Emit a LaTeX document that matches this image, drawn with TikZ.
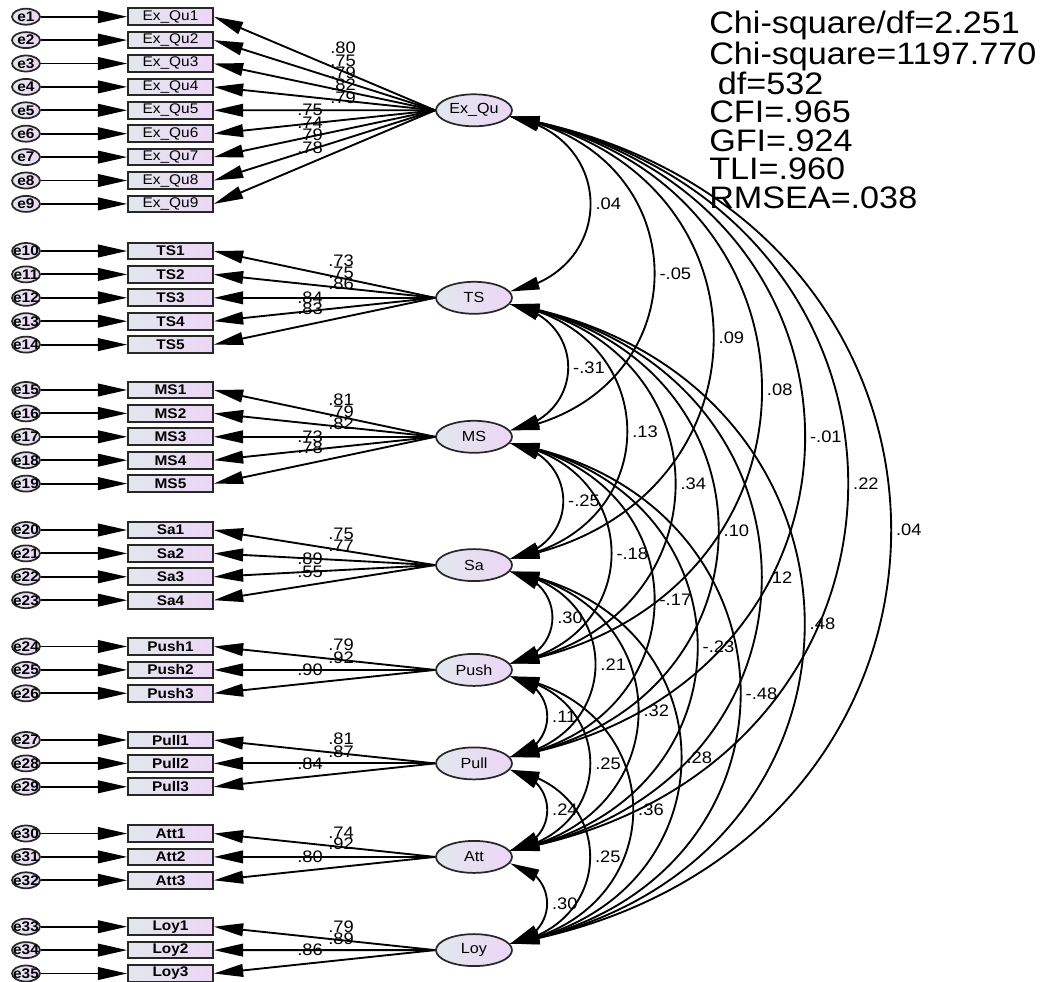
\documentclass[tikz,border=0pt]{standalone}
\usepackage{fontspec}
\setmainfont{Liberation Sans}[FakeStretch=1.1]
\usepackage{tikz}
\usetikzlibrary{shapes, arrows.meta, bending, positioning}
\definecolor{boxL}{RGB}{226,231,238}
\definecolor{boxR}{RGB}{236,214,246}
\definecolor{rim}{RGB}{40,40,40}
\tikzset{
  obsV/.style={rectangle, draw=rim, line width=1.5pt,
               left color=boxL, right color=boxR,
               minimum width=63.5pt, minimum height=12.5pt, inner sep=0pt,
               font=\fontsize{10.5}{10.5}\selectfont},
  latV/.style={ellipse, draw=rim, line width=1.3pt,
               left color=boxL, right color=boxR,
               minimum width=57pt, minimum height=24pt, inner sep=0pt,
               font=\fontsize{11}{11}\selectfont},
  errV/.style={ellipse, draw=rim, line width=1.3pt,
               left color=boxL, right color=boxR,
               minimum width=21pt, minimum height=12pt, inner sep=0pt,
               font=\bfseries\fontsize{10.5}{10.5}\selectfont},
  pathA/.style={draw=black, line width=1.4pt,
                -{Triangle[length=22pt, width=9.5pt]}},
  covA/.style={draw=black, line width=1.4pt,
               {Triangle[length=22pt, width=9.5pt]}-{Triangle[length=22pt, width=9.5pt]}},
  arcA/.style={out=-10, in=10, looseness=1.6},
  coef/.style={inner sep=0pt, font=\fontsize{12.5}{12.5}\selectfont},
}

\begin{document}
\begin{tikzpicture}[x=0.75pt, y=0.75pt]
    \useasboundingbox (0,0) rectangle (1051,-982);
    %% latent variables
    \node[latV] (ExQu) at (474,-110.3) {Ex\_Qu};
    \node[latV] (TS)   at (474,-297.8) {TS};
    \node[latV] (MS)   at (474,-436.8) {MS};
    \node[latV] (Sa)   at (474,-565.1) {Sa};
    \node[latV] (Push) at (474,-669.9) {Push};
    \node[latV] (Pull) at (474,-763.4) {Pull};
    \node[latV] (Att)  at (474,-856.9) {Att};
    \node[latV] (Loy)  at (474,-950.1) {Loy};
    %% indicators, error terms and loadings
    \foreach \lat/\txt/\n/\yt/\eo/\fw in {ExQu/Ex\_Qu/9/16.7/0/\mdseries,
        TS/TS/5/251/9/\bfseries, MS/MS/5/390/14/\bfseries,
        Sa/Sa/4/530/19/\bfseries, Push/Push/3/646.5/23/\bfseries,
        Pull/Pull/3/740/26/\bfseries, Att/Att/3/833.5/29/\bfseries,
        Loy/Loy/3/926.7/32/\bfseries}{
      \foreach \i in {1,...,\n}{
        \pgfmathtruncatemacro\ee{\eo+\i}
        \node[obsV] (\lat\i) at (170.5,-\yt-23.4*\i+23.4) {\fw\txt\i};
        \node[errV] (e\ee) at (26,-\yt-23.4*\i+23.4) {\makebox[0pt]{e\ee}};
        \draw[pathA] (e\ee) -- (\lat\i);
        \draw[pathA] (\lat.west) -- (\lat\i.east);
      }
    }
    %% standardized loadings
    \foreach \xx/\yy/\v [count=\k] in {343/48/.80, 343/61/.75, 343/73/.79,
        343/85/.82, 343/97.5/.79, 310/110/.75, 310/122.5/.74, 310/135/.79,
        310/147.5/.78, 341/260.5/.73, 341/272.5/.75, 341/284/.86,
        310/297.5/.84, 310/309/.83, 341/400/.81, 341/411.5/.79, 341/424/.82,
        310/436.5/.73, 310/448/.78, 341/534/.75, 341/546/.77, 310/559/.89,
        310/571.5/.55, 341/645/.79, 341/657.5/.92, 310/670/.90,
        341/738.5/.81, 341/751.5/.87, 310/764/.84, 341/833/.74,
        341/843.5/.92, 310/857/.80, 341/927/.79, 341/938.5/.89, 310/950/.86}
      \node[coef] (w\k) at (\xx,-\yy) {\v};
    %% correlations between latent variables
    \foreach \a/\b/\r in {ExQu/TS/.04, ExQu/MS/-.05, ExQu/Sa/.09,
        ExQu/Push/.08, ExQu/Pull/-.01, ExQu/Att/.22, ExQu/Loy/.04,
        TS/MS/-.31, TS/Sa/.13, TS/Push/.34, TS/Pull/.10, TS/Att/.12,
        TS/Loy/.48, MS/Sa/-.25, MS/Push/-.18, MS/Pull/-.17, MS/Att/-.23,
        MS/Loy/-.48, Sa/Push/.30, Sa/Pull/.21, Sa/Att/.32, Sa/Loy/.28,
        Push/Pull/.11, Push/Att/.25, Push/Loy/.36, Pull/Att/.24,
        Pull/Loy/.25, Att/Loy/.30}
      \draw[covA] (\a.-10) to[arcA] node[coef, right=3pt] (c\a\b) {\r} (\b.10);
    %% fit indices
    \node[anchor=north west, inner sep=0pt, align=left,
          font=\fontsize{23.3}{21.4}\selectfont] (fit) at (709,-11) {%
      Chi-square/df=2.251\\Chi-square=1197.770\\\hspace*{0.28em}df=532\\
      CFI=.965\\GFI=.924\\TLI=.960\\RMSEA=.038};
\end{tikzpicture}
\end{document}
